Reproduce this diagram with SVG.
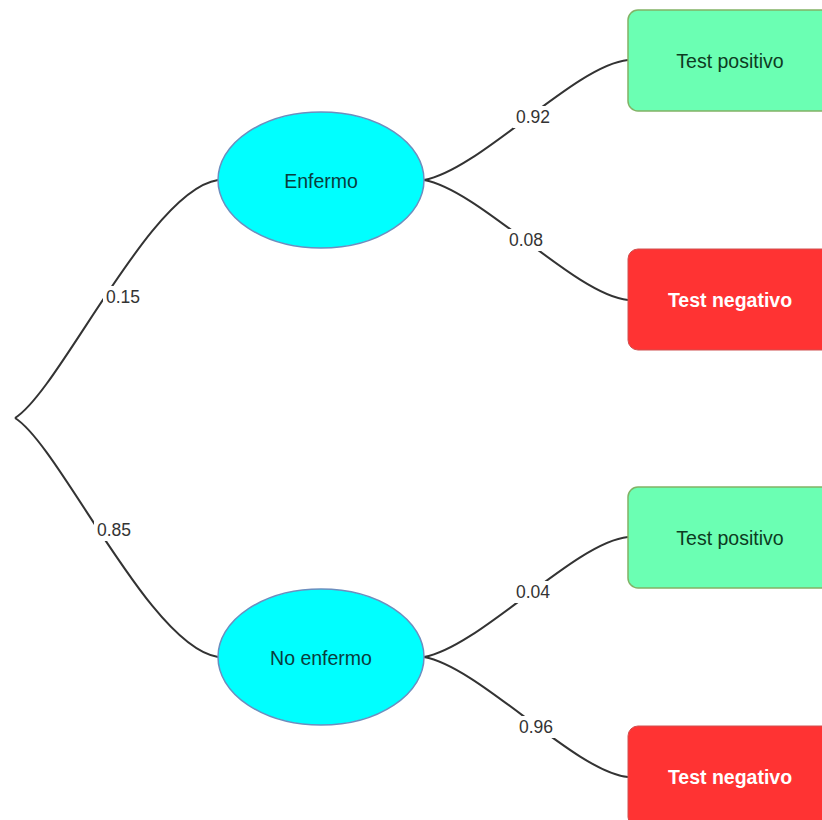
<svg xmlns="http://www.w3.org/2000/svg" width="822" height="820" viewBox="0 0 822 820">
<style>
.edge{fill:none;stroke:#333;stroke-width:2}
.ell{fill:#00FFFF;stroke:#6C8EBF;stroke-width:1.5}
.pos{fill:#6BFFB3;stroke:#82B366;stroke-width:1.5}
.neg{fill:#FF3333;stroke:#D05050;stroke-width:1}
.t{font-family:"Liberation Sans",Arial,sans-serif;font-size:19.5px;text-anchor:middle;dominant-baseline:central}
.lbl{font-family:"Liberation Sans",Arial,sans-serif;font-size:17.5px;fill:#333;text-anchor:middle;dominant-baseline:central}
.bg{fill:#fff}
</style>
<rect width="822" height="820" fill="#fff"/>
<g id="connectors">
<path class="edge" d="M15,418 C60,390 150,190 218,180"/>
<path class="edge" d="M15,418 C60,446 150,647 218,657"/>
<path class="edge" d="M424,180 C480,170 575,65 628,60"/>
<path class="edge" d="M424,180 C480,190 575,295 628,300"/>
<path class="edge" d="M424,657 C480,647 575,542 628,537"/>
<path class="edge" d="M424,657 C480,667 575,772 628,777"/>
<rect class="bg" x="103" y="286" width="40" height="22"/>
<text class="lbl" x="123" y="297">0.15</text>
<rect class="bg" x="94" y="519" width="40" height="22"/>
<text class="lbl" x="114" y="530">0.85</text>
<rect class="bg" x="513" y="106" width="40" height="22"/>
<text class="lbl" x="533" y="117">0.92</text>
<rect class="bg" x="506" y="229" width="40" height="22"/>
<text class="lbl" x="526" y="240">0.08</text>
<rect class="bg" x="513" y="581" width="40" height="22"/>
<text class="lbl" x="533" y="592">0.04</text>
<rect class="bg" x="516" y="716" width="40" height="22"/>
<text class="lbl" x="536" y="727">0.96</text>
</g>
<g id="enfermo">
<ellipse class="ell" cx="321" cy="180" rx="103" ry="68"/>
<text class="t" x="321" y="181" fill="#0A3D3D">Enfermo</text>
</g>
<g id="no-enfermo">
<ellipse class="ell" cx="321" cy="657" rx="103" ry="68"/>
<text class="t" x="321" y="658" fill="#0A3D3D">No enfermo</text>
</g>
<g id="pos1">
<rect class="pos" x="628" y="10" width="210" height="101" rx="10"/>
<text class="t" x="730" y="61" fill="#0D3B22">Test positivo</text>
</g>
<g id="neg1">
<rect class="neg" x="628" y="249" width="210" height="101" rx="10"/>
<text class="t" x="730" y="300" fill="#fff" font-weight="bold">Test negativo</text>
</g>
<g id="pos2">
<rect class="pos" x="628" y="487" width="210" height="101" rx="10"/>
<text class="t" x="730" y="538" fill="#0D3B22">Test positivo</text>
</g>
<g id="neg2">
<rect class="neg" x="628" y="726" width="210" height="101" rx="10"/>
<text class="t" x="730" y="777" fill="#fff" font-weight="bold">Test negativo</text>
</g>
</svg>
